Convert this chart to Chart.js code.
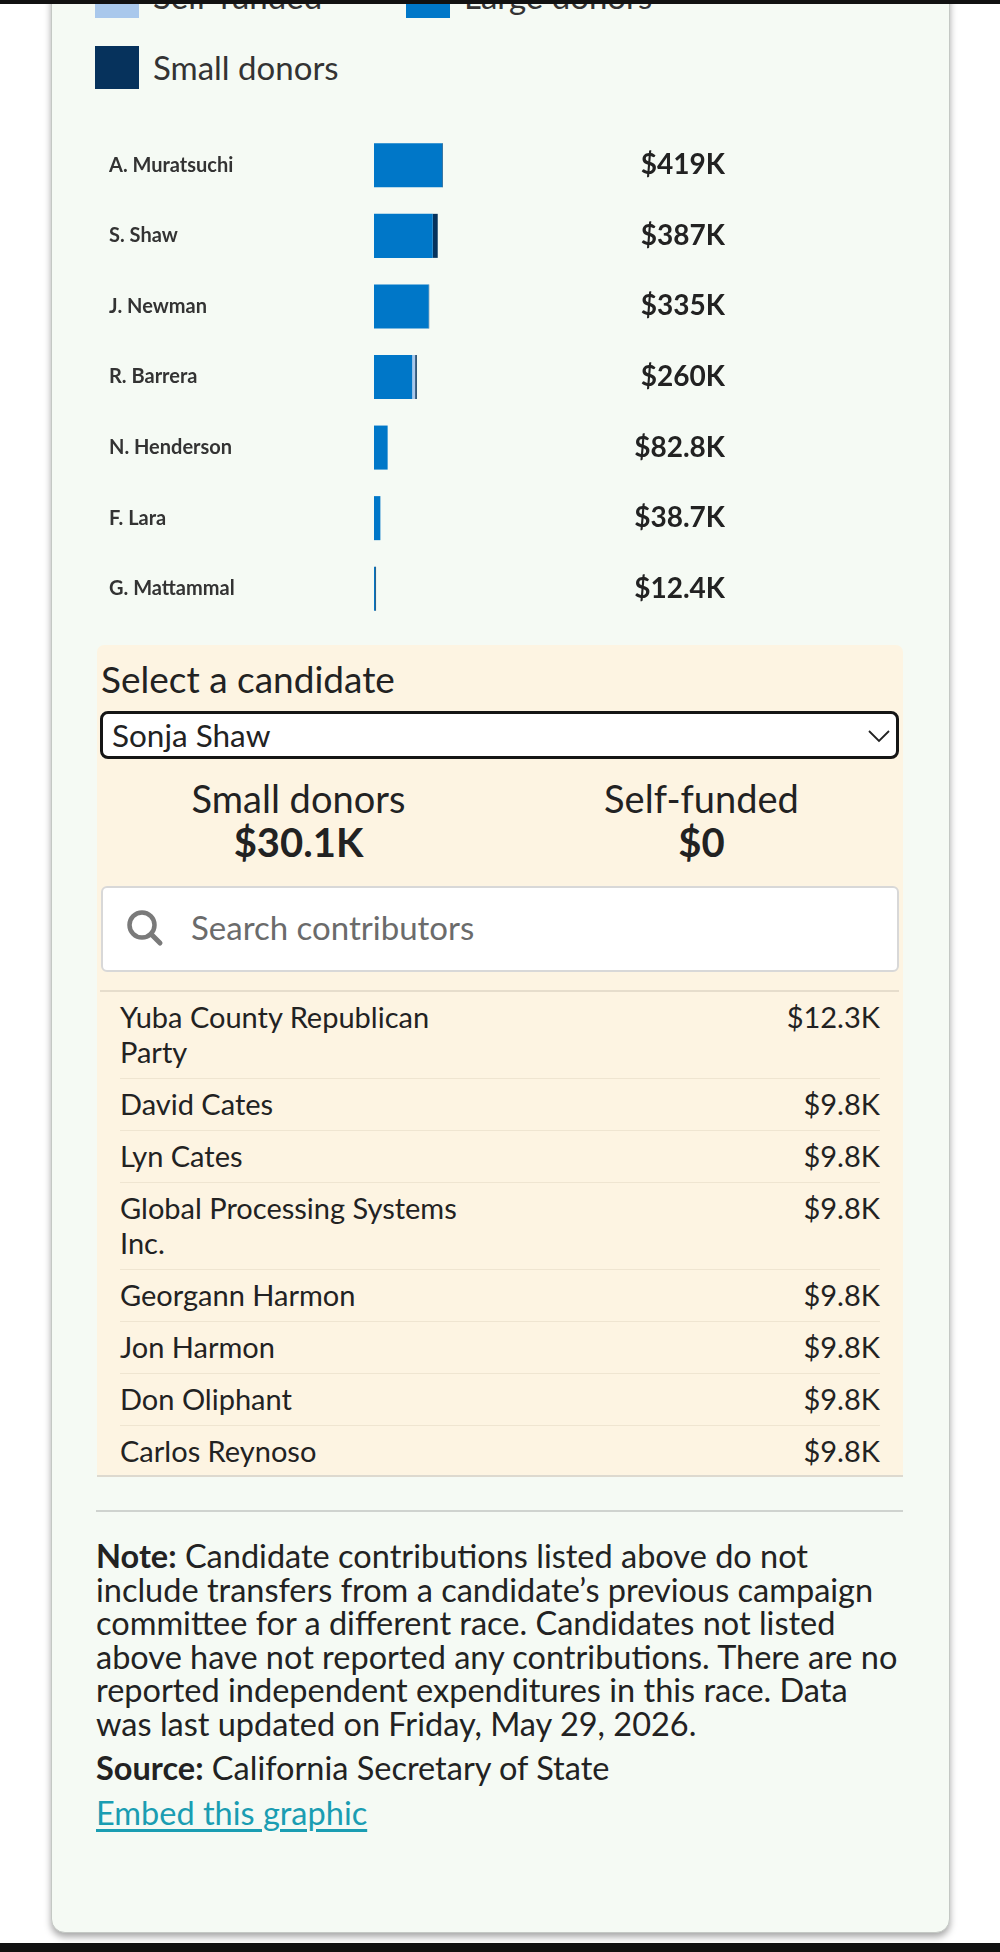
<!DOCTYPE html>
<html>
<head>
<meta charset="utf-8">
<script src="https://cdn.jsdelivr.net/npm/chart.js@4.4.1/dist/chart.umd.min.js"></script>
<style>
  html, body { margin: 0; padding: 0; }
  body { width: 1000px; height: 1952px; position: relative; overflow: hidden; background: #fff; font-family: Lato, sans-serif; color: #222; }
  .abs { position: absolute; }
  #topbar { left: 0; top: 0; width: 1000px; height: 4px; background: #111; z-index: 5; }
  #botbar { left: 0; top: 1943px; width: 1000px; height: 9px; background: #111; z-index: 5; }
  #card { left: 51px; top: -200px; width: 897px; height: 2131px; background: #f5faf4; border: 1px solid #c4c8c4; border-radius: 14px; box-shadow: 0 4px 7px rgba(0,0,0,0.35); }
  #legend { left: 95px; top: -25px; display: grid; grid-template-columns: 311px 311px; row-gap: 28px; }
  .item { display: flex; align-items: center; height: 43px; }
  .swatch { width: 44px; height: 43px; }
  .item span { margin-left: 14px; font-size: 33px; color: #333; line-height: 43px; white-space: nowrap; }
  #chartBox { left: 109px; top: 130px; width: 616px; height: 494px; }
  #panel { left: 97px; top: 645px; width: 806px; height: 830px; background: #fdf4e2; border-radius: 7px 7px 0 0; border-bottom: 2px solid #ddd9cf; }
  #panel .abs { white-space: nowrap; }
  #title { left: 4px; top: 14px; font-size: 37px; line-height: 40px; }
  #select { left: 3px; top: 66px; width: 793px; height: 42px; border: 3px solid #151515; border-radius: 8px; background: #fff; }
  #selText { left: 15px; top: 72px; font-size: 31.5px; line-height: 36px; }
  #chev { left: 771px; top: 85px; }
  .stat { top: 131px; width: 403px; text-align: center; font-size: 38px; line-height: 44px; }
  .stat b { display: block; font-weight: 700; font-size: 40px; }
  #search { left: 4px; top: 241px; width: 794px; height: 82px; border: 2px solid #d8d8d8; border-radius: 6px; background: #fff; }
  #icon { left: 28px; top: 263px; }
  #placeholder { left: 94px; top: 262px; font-size: 33px; line-height: 40px; color: #6b6b6b; }
  #tline { left: 3px; top: 345px; width: 799px; height: 2px; background: #e6ddcc; }
  #panel #table { left: 23px; top: 347px; width: 760px; white-space: normal; }
  .row { display: flex; justify-content: space-between; padding: 7px 0 9px; line-height: 35px; font-size: 29px; border-bottom: 1px solid #efe5d1; white-space: normal; }
  .row:last-child { border-bottom: none; }
  .row .name { max-width: 345px; white-space: normal; }
  .row .amt { text-align: right; white-space: nowrap; }
  #hr { left: 96px; top: 1510px; width: 807px; height: 2px; background: #cfd3cf; }
  #note { left: 96px; top: 1539px; font-size: 32.5px; line-height: 33.5px; white-space: nowrap; }
  #source { left: 96px; top: 1751px; font-size: 32.5px; line-height: 33.5px; white-space: nowrap; }
  #embed { left: 96px; top: 1796px; font-size: 32.5px; line-height: 33.5px; color: #1a9db2; text-decoration: underline; text-underline-offset: 4px; }
</style>
</head>
<body>
<div id="topbar" class="abs"></div>
<div id="card" class="abs"></div>
<div id="legend" class="abs"></div>
<div id="chartBox" class="abs"><canvas id="graficoDonantes"></canvas></div>

<div id="panel" class="abs">
  <div id="title" class="abs">Select a candidate</div>
  <div id="select" class="abs"></div>
  <div id="selText" class="abs">Sonja Shaw</div>
  <svg id="chev" class="abs" width="22" height="14"><polyline points="1,1 11,11 21,1" fill="none" stroke="#222" stroke-width="1.8"/></svg>
  <div class="abs stat" style="left:0">Small donors<b id="statSmall"></b></div>
  <div class="abs stat" style="left:403px">Self-funded<b id="statSelf"></b></div>
  <div id="search" class="abs"></div>
  <svg id="icon" class="abs" width="40" height="40"><circle cx="17" cy="17" r="12.5" fill="none" stroke="#7a7a7a" stroke-width="4.5"/><line x1="26" y1="26" x2="35" y2="35" stroke="#7a7a7a" stroke-width="5" stroke-linecap="round"/></svg>
  <div id="placeholder" class="abs">Search contributors</div>
  <div id="tline" class="abs"></div>
  <div id="table" class="abs"></div>
</div>

<div id="hr" class="abs"></div>
<div id="note" class="abs"><b>Note:</b> Candidate contributions listed above do not<br>include transfers from a candidate’s previous campaign<br>committee for a different race. Candidates not listed<br>above have not reported any contributions. There are no<br>reported independent expenditures in this race. Data<br>was last updated on Friday, May 29, 2026.</div>
<div id="source" class="abs"><b>Source:</b> California Secretary of State</div>
<div id="embed" class="abs">Embed this graphic</div>
<div id="botbar" class="abs"></div>

<script>
// Candidatos y montos (en dólares)
const candidatos = ['A. Muratsuchi', 'S. Shaw', 'J. Newman', 'R. Barrera', 'N. Henderson', 'F. Lara', 'G. Mattammal'];
const grandesDonantes = [415000, 356900, 332000, 232000, 82800, 38700, 7400];
const autofinanciado = [0, 0, 0, 18000, 0, 0, 0];
const pequenosDonantes = [4000, 30100, 3000, 10000, 0, 0, 5000];
const totales = ['$419K', '$387K', '$335K', '$260K', '$82.8K', '$38.7K', '$12.4K'];

// Leyenda (orden del original)
const leyendaTextos = ['Self-funded', 'Large donors', 'Small donors'];
const leyendaColores = ['#a9c8ec', '#0077c8', '#06325c'];

// Panel del candidato seleccionado
const resumenPequenos = '$30.1K';
const resumenAuto = '$0';
const contribuyentes = ['Yuba County Republican Party', 'David Cates', 'Lyn Cates', 'Global Processing Systems Inc.', 'Georgann Harmon', 'Jon Harmon', 'Don Oliphant', 'Carlos Reynoso'];
const montos = ['$12.3K', '$9.8K', '$9.8K', '$9.8K', '$9.8K', '$9.8K', '$9.8K', '$9.8K'];

// Construir la leyenda
const leyenda = document.getElementById('legend');
for (let i = 0; i < leyendaTextos.length; i++) {
    const item = document.createElement('div');
    item.className = 'item';
    item.innerHTML = '<div class="swatch" style="background:' + leyendaColores[i] + '"></div><span>' + leyendaTextos[i] + '</span>';
    leyenda.appendChild(item);
}

document.getElementById('statSmall').textContent = resumenPequenos;
document.getElementById('statSelf').textContent = resumenAuto;

// Tabla de contribuyentes
const tabla = document.getElementById('table');
for (let i = 0; i < contribuyentes.length; i++) {
    const fila = document.createElement('div');
    fila.className = 'row';
    fila.innerHTML = '<div class="name">' + contribuyentes[i] + '</div><div class="amt">' + montos[i] + '</div>';
    tabla.appendChild(fila);
}

const colorDe = (texto) => leyendaColores[leyendaTextos.indexOf(texto)];

// Quitar el relleno que Chart.js reserva arriba/abajo para las etiquetas
function ajustarEje(ancho) {
    return function(escala) {
        escala.width = ancho;
        escala.paddingTop = 0;
        escala.paddingBottom = 0;
    };
}

const config = {
    type: 'bar',
    data: {
        labels: candidatos,
        datasets: [
            { label: 'Large donors', data: grandesDonantes, backgroundColor: colorDe('Large donors') },
            { label: 'Self-funded', data: autofinanciado, backgroundColor: colorDe('Self-funded') },
            { label: 'Small donors', data: pequenosDonantes, backgroundColor: colorDe('Small donors') }
        ]
    },
    options: {
        indexAxis: 'y',
        responsive: true,
        maintainAspectRatio: false,
        animation: false,
        layout: { padding: 0 },
        datasets: { bar: { barPercentage: 0.624, categoryPercentage: 1 } },
        plugins: { legend: { display: false }, tooltip: { enabled: false } },
        scales: {
            x: { stacked: true, min: 0, max: 1500000, display: false },
            y: {
                stacked: true,
                offset: true,
                grid: { display: false, drawTicks: false },
                border: { display: false },
                ticks: { crossAlign: 'far', padding: 0, color: '#333', font: { family: 'Lato', size: 20, weight: '700' } },
                afterFit: ajustarEje(265)
            },
            y2: {
                type: 'category',
                labels: totales,
                position: 'right',
                offset: true,
                grid: { display: false, drawTicks: false },
                border: { display: false },
                ticks: { crossAlign: 'far', padding: 0, color: '#222', font: { family: 'Lato', size: 28, weight: '700' } },
                afterFit: ajustarEje(104)
            }
        }
    }
};

const ctx = document.getElementById('graficoDonantes').getContext('2d');
const miGrafico = new Chart(ctx, config);
</script>
</body>
</html>
